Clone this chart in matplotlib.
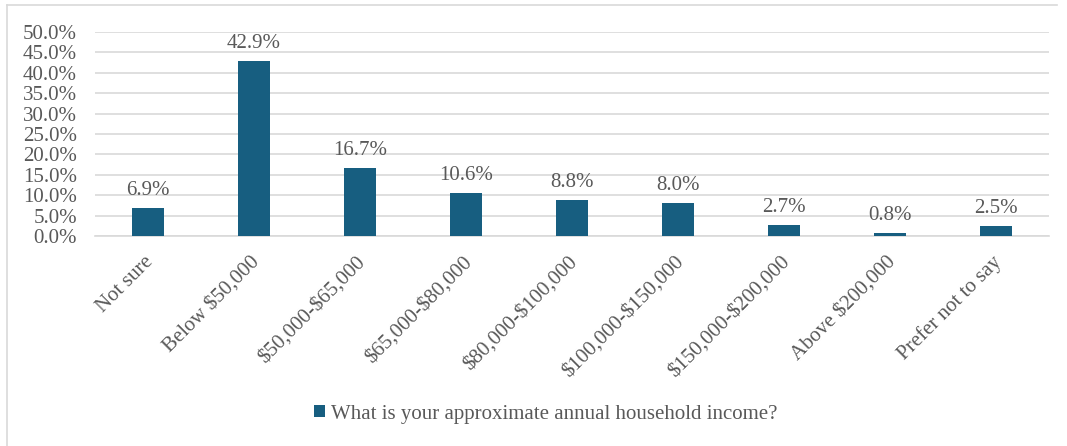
import matplotlib
matplotlib.use("Agg")
import matplotlib.pyplot as plt
from matplotlib.lines import Line2D
from matplotlib.patches import Patch
from matplotlib.transforms import ScaledTranslation

categories = ["Not sure", "Below $50,000", "$50,000-$65,000", "$65,000-$80,000",
              "$80,000-$100,000", "$100,000-$150,000", "$150,000-$200,000",
              "Above $200,000", "Prefer not to say"]
values = [6.9, 42.9, 16.7, 10.6, 8.8, 8.0, 2.7, 0.8, 2.5]
series_name = "What is your approximate annual household income?"
yticks = [0, 5, 10, 15, 20, 25, 30, 35, 40, 45, 50]

bar_color = "#175e80"
text_color = "#595959"
grid_color = "#d9d9d9"

plt.rcParams["font.family"] = ["Liberation Serif", "DejaVu Serif"]
plt.rcParams["text.parse_math"] = False

W, H = 1067, 446
fs = 15
fig = plt.figure(figsize=(W / 100, H / 100), dpi=100)
ax = fig.add_axes([95 / W, 1 - 236 / H, (1049 - 95) / W, (236 - 32) / H])

x = list(range(len(categories)))
ax.bar(x, values, width=0.3, color=bar_color, zorder=3)
for xi, v in zip(x, values):
    ax.text(xi, v + 2.0, f"{v:.1f}%", ha="center", va="bottom",
            fontsize=fs, color=text_color)

ax.set_xlim(-0.5, len(categories) - 0.5)
ax.set_ylim(0, 50)
ax.set_yticks(yticks)
ax.set_yticklabels([f"{t:.1f}%" for t in yticks])
ax.yaxis.grid(True, color=grid_color, linewidth=1.2, zorder=0)
ax.set_axisbelow(True)
for s in ["top", "right", "left"]:
    ax.spines[s].set_visible(False)
ax.spines["bottom"].set_color(grid_color)
ax.spines["bottom"].set_linewidth(1.2)
ax.tick_params(axis="both", length=0, labelsize=fs, labelcolor=text_color)
ax.tick_params(axis="y", pad=13)
ax.tick_params(axis="x", pad=12)
ax.set_xticks(x)
ax.set_xticklabels(categories, rotation=45, ha="right", rotation_mode="anchor")
shift = ScaledTranslation(-4 / 100, 0, fig.dpi_scale_trans)
for lbl in ax.get_xticklabels():
    lbl.set_transform(lbl.get_transform() + shift)

handle = Patch(facecolor=bar_color, edgecolor="none")
fig.legend([handle], [series_name], loc="center", bbox_to_anchor=(546 / W, 1 - 414 / H),
           frameon=False, fontsize=fs, labelcolor=text_color,
           handlelength=0.5, handleheight=0.5, handletextpad=0.3)

# light frame lines along the top and left edges
fig.add_artist(Line2D([7 / W, 1057 / W], [1 - 5 / H, 1 - 5 / H], color=grid_color,
                      linewidth=1.2, transform=fig.transFigure))
fig.add_artist(Line2D([7 / W, 7 / W], [1 - 5 / H, 0], color=grid_color,
                      linewidth=1.2, transform=fig.transFigure))

fig.savefig("out.png", dpi=100, facecolor="white")
